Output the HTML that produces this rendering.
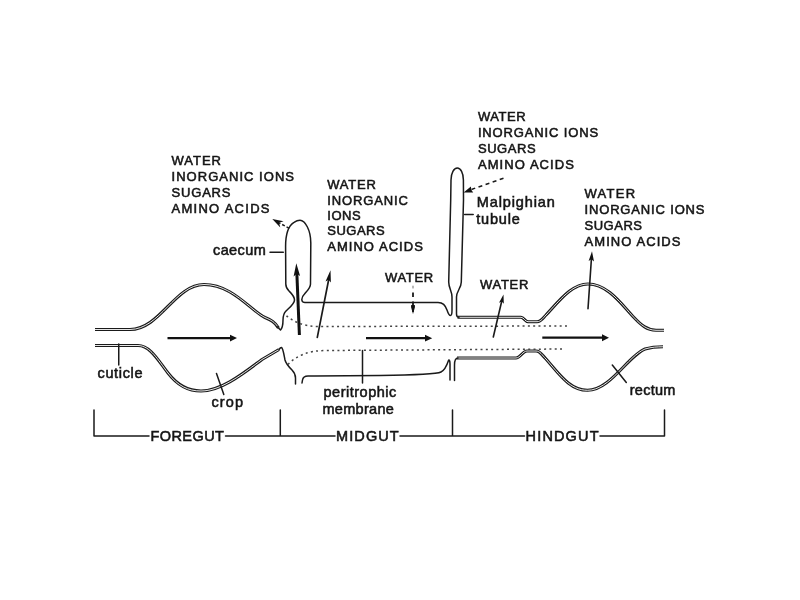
<!DOCTYPE html>
<html><head><meta charset="utf-8">
<style>
html,body{margin:0;padding:0;background:#fff;width:800px;height:600px;overflow:hidden}
svg{display:block;will-change:transform}
text{font-family:"Liberation Sans",sans-serif;fill:#151515;stroke:#151515;stroke-width:0.55;-webkit-font-smoothing:antialiased}
.cap{font-size:13px}
.low{font-size:14.5px}
.big{font-size:14.5px;stroke-width:0}
.ln{fill:none;stroke:#1a1a1a;stroke-width:1.5;stroke-linecap:round;stroke-linejoin:round}
.dbl{fill:none;stroke:#1a1a1a;stroke-width:3.1;stroke-linecap:butt;stroke-linejoin:round}
.dblw{fill:none;stroke:#fff;stroke-width:0.9;stroke-linecap:butt;stroke-linejoin:round}
.dot{fill:none;stroke:#444;stroke-width:1.5;stroke-dasharray:2 3.3}
.arr{fill:none;stroke:#111;stroke-width:2.3}
.head{fill:#111;stroke:none}
</style></head>
<body>
<svg width="800" height="600" viewBox="0 0 800 600">

<!-- text blocks -->
<g class="cap">
<text x="171.5" y="165.3" textLength="49.5" lengthAdjust="spacing">WATER</text>
<text x="171.5" y="181" textLength="122.5" lengthAdjust="spacing">INORGANIC IONS</text>
<text x="171.5" y="196.7" textLength="59" lengthAdjust="spacing">SUGARS</text>
<text x="171.5" y="212.5" textLength="98" lengthAdjust="spacing">AMINO ACIDS</text>

<text x="327.2" y="189" textLength="48.7" lengthAdjust="spacing">WATER</text>
<text x="327.2" y="204.5" textLength="80.6" lengthAdjust="spacing">INORGANIC</text>
<text x="327.2" y="219.8" textLength="33.5" lengthAdjust="spacing">IONS</text>
<text x="327.2" y="235" textLength="57.5" lengthAdjust="spacing">SUGARS</text>
<text x="327.2" y="251" textLength="95.6" lengthAdjust="spacing">AMINO ACIDS</text>

<text x="477.9" y="121" textLength="47.8" lengthAdjust="spacing">WATER</text>
<text x="477.9" y="137.2" textLength="120.2" lengthAdjust="spacing">INORGANIC IONS</text>
<text x="477.9" y="153.4" textLength="57.7" lengthAdjust="spacing">SUGARS</text>
<text x="477.9" y="169" textLength="96" lengthAdjust="spacing">AMINO ACIDS</text>

<text x="584.5" y="198" textLength="50.7" lengthAdjust="spacing">WATER</text>
<text x="584.5" y="214" textLength="120" lengthAdjust="spacing">INORGANIC IONS</text>
<text x="584.5" y="230" textLength="57.5" lengthAdjust="spacing">SUGARS</text>
<text x="584.5" y="246" textLength="96" lengthAdjust="spacing">AMINO ACIDS</text>

<text x="384.9" y="282.3" textLength="48.3" lengthAdjust="spacing">WATER</text>
<text x="479.9" y="289.2" textLength="48.5" lengthAdjust="spacing">WATER</text>
</g>

<g class="low">
<text x="213" y="255.3" textLength="52.8" lengthAdjust="spacing">caecum</text>
<text x="97.5" y="378" textLength="45" lengthAdjust="spacing">cuticle</text>
<text x="211.5" y="406.6" textLength="31.6" lengthAdjust="spacing">crop</text>
<text x="323.5" y="396.5" textLength="72.8" lengthAdjust="spacing">peritrophic</text>
<text x="322.5" y="414.4" textLength="71.3" lengthAdjust="spacing">membrane</text>
<text x="476.7" y="207" textLength="78.2" lengthAdjust="spacing">Malpighian</text>
<text x="476.2" y="224" textLength="43.7" lengthAdjust="spacing">tubule</text>
<text x="629.8" y="395.3" textLength="45.5" lengthAdjust="spacing">rectum</text>
</g>

<g class="big">
<text x="150.5" y="441.2" textLength="73.4" lengthAdjust="spacing">FOREGUT</text>
<text x="336" y="441.2" textLength="62.7" lengthAdjust="spacing">MIDGUT</text>
<text x="525.6" y="441.2" textLength="72.9" lengthAdjust="spacing">HINDGUT</text>
</g>

<!-- bracket -->
<path class="ln" d="M94,410 L94,436 L149,436 M225.5,436 L335,436 M400,436 L524.5,436 M600,436 L664.5,436 L664.5,410 M280.3,410 L280.3,436 M452.5,410 L452.5,436"/>

<!-- foregut double walls -->
<g>
<path id="fgt" class="dbl" d="M95,329.5 L130,329.5 C160,329.5 175,284.5 204,284.5 C232,284.5 250,310 265,317.5 C271,320 275,322 278.5,328"/>
<path class="dblw" d="M95,329.5 L130,329.5 C160,329.5 175,284.5 204,284.5 C232,284.5 250,310 265,317.5 C271,320 275,322 278.5,328"/>
<path class="dbl" d="M95,345.5 L138,345.5 C150,345.5 158,360 168,373 C178,386 188,391 201,391 C222,391 245,372 262,359.5 L279,349.5"/>
<path class="dblw" d="M95,345.5 L138,345.5 C150,345.5 158,360 168,373 C178,386 188,391 201,391 C222,391 245,372 262,359.5 L279,349.5"/>
</g>

<!-- hindgut double walls -->
<g>
<path class="dbl" d="M457.5,317.3 L521,317.3 C524,317.3 525,321.7 528,321.7 L537,321.7 C541,321.7 543,318 546,315 C560,300 572,284 588,284 C608,284 622,305 634,317.5 C641,325 647,330 656,330.3 L664,330.3"/>
<path class="dblw" d="M457.5,317.3 L521,317.3 C524,317.3 525,321.7 528,321.7 L537,321.7 C541,321.7 543,318 546,315 C560,300 572,284 588,284 C608,284 622,305 634,317.5 C641,325 647,330 656,330.3 L664,330.3"/>
<path class="dbl" d="M457,358 L516,358 C520,358 523,351 527,351 L536,351 C540,351 542,355 546,359 C560,375 570,390.3 587.5,390.3 C610,390.3 628,356 645,349 C652,347 657,346.8 663,346.8"/>
<path class="dblw" d="M457,358 L516,358 C520,358 523,351 527,351 L536,351 C540,351 542,355 546,359 C560,375 570,390.3 587.5,390.3 C610,390.3 628,356 645,349 C652,347 657,346.8 663,346.8"/>
</g>

<!-- midgut single walls -->
<path class="ln" d="M277,326.5 L280.5,330 C282.5,328 283,325 283,320 C283,316 284,313 286,311 C289,308 294.5,304 294.5,300 C294.5,296 291,293 289,291 C287,289 285.8,287.5 285.8,284 L285.6,247 C285.5,236 288,226 294,222.3 C296,221 298,220.3 300,220.3 C305,220.3 310.8,230 310.8,243 L310.5,284 C310.5,288 307,291 304.5,294 C302.5,296 301.8,297.5 301.8,299.5 L302,300.5 C302.3,302.3 303,302.6 305,302.6 L438,302.6 C443,302.6 445,305 447,310 C448,313 449,315.5 450.5,315.5 C451.8,315.5 452,313 452,310 L452,297 C452,291 448.7,288 448.7,282 L450.7,200 L451,180 C451,173 454,168 457.3,168 C460.6,168 463.4,173 463.4,180 L463.5,200 L461.3,282 C461.3,288 456.5,291 456.5,297 L456.5,314 C456.5,316 457,317.3 459,317.3"/>
<path class="ln" d="M279,349.5 C280,348 280.5,347.5 281.5,347.5 C283,348 284,355 285,360 C286,364 289,367 292,370 C294,372 295.5,374 295.5,378 L295.5,384"/>
<path class="ln" d="M302,383 L302.5,380 C303,377 305,376 308,376 L315,376 L380,375.5 C420,375 437,374 441,372 C445,370 447,365 448.5,360.5 C449,359.5 450,360 450,364 L450,380"/>
<path class="ln" d="M454.5,380.5 L454.5,365 C454.5,361 455.5,358 458,358"/>

<!-- peritrophic dotted -->
<path class="dot" d="M286.5,315.8 C294,322 304,326.5 318,326.5 L567.5,326"/>
<path class="dot" d="M288,364.4 C296,356 308,350.5 326,350.5 L565,349"/>

<!-- label lines -->
<path class="ln" d="M118.75,344 L118.75,365 M216.5,373.5 L223.8,394.5 M270,252.2 L283.3,252.2 M362.5,350.6 L362.5,383 M464.6,214.4 L473.2,214.4 M612.3,365 L626.3,382.5"/>

<!-- flow arrows -->
<path class="arr" d="M167.5,338.2 L231,338.2"/>
<path class="head" d="M237,338.1 L230,341.4 L230,334.8 Z"/>
<path class="arr" d="M366,338.2 L426,338.2"/>
<path class="head" d="M432.2,338.2 L425.0,341.6 L425.0,334.8 Z"/>
<path class="arr" d="M542.3,337.7 L603,337.7"/>
<path class="head" d="M609.0,337.7 L602.0,341.2 L602.0,337.7 L602.0,334.2 Z"/>
<!-- up arrows -->
<path class="arr" style="stroke-width:3" d="M299.4,335 L296.8,272"/>
<path class="head" d="M296.3,263.3 L300.1,276.1 L296.7,273.7 L293.6,276.4 Z"/>
<path class="ln" style="stroke-width:1.7" d="M317.3,337.3 L329,278"/>
<path class="head" d="M330.5,270.3 L330.9,282.6 L328.6,279.7 L325.5,281.5 Z"/>
<path class="ln" style="stroke-width:1.6" d="M493.3,337 L502,300"/>
<path class="head" d="M503.5,294.5 L503.8,303.8 L501.8,301.5 L499.0,302.7 Z"/>
<path class="ln" style="stroke-width:1.6" d="M588,308.7 L591.4,259"/>
<path class="head" d="M592.0,251.3 L594.0,261.5 L591.4,259.3 L588.6,261.1 Z"/>
<!-- dashed arrows -->
<path class="ln" style="stroke-width:1.2;stroke:#888" d="M413,286 L413,288"/><path class="ln" style="stroke-width:1.8;stroke-linecap:butt" d="M413,292.5 L413,297 M413,301.5 L413,312"/>
<path class="head" d="M413,314 L411,307 L411.2,305 L414.8,305 L415,307 Z"/>
<path class="ln" style="stroke-dasharray:4 3.5;stroke-linecap:butt" d="M503.5,178.2 L470,190"/>
<path class="head" d="M463.6,192.6 L470.9,186.4 L471.2,189.8 L473.2,192.5 Z"/>
<path class="ln" style="stroke-dasharray:3 2;stroke-linecap:butt" d="M289.2,228.3 L279,222.8"/>
<path class="head" d="M272.3,219.1 L283.6,221.3 L279.1,222.8 L280.3,227.4 Z"/>

</svg>
</body></html>
